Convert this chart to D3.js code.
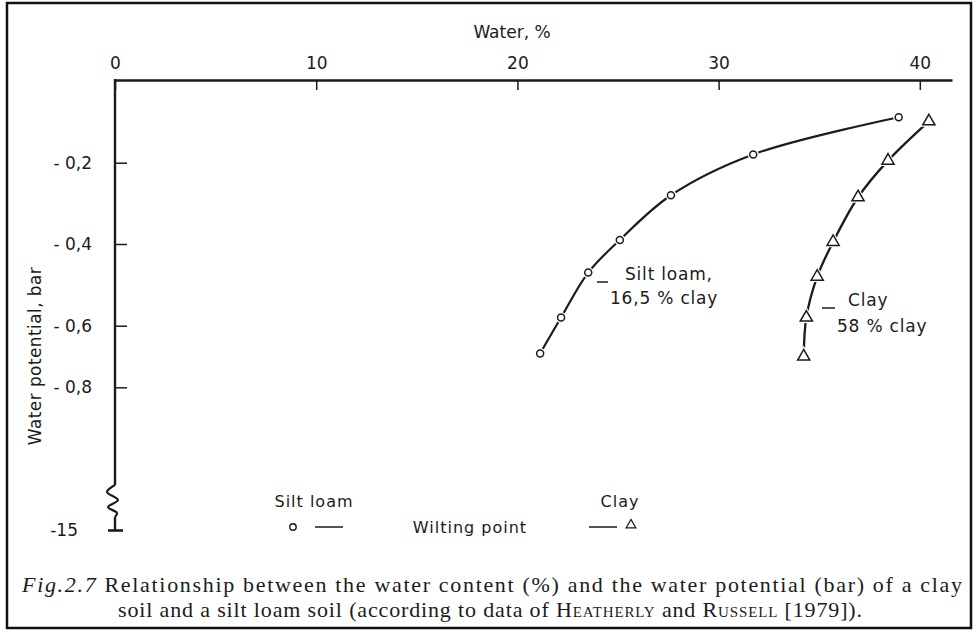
<!DOCTYPE html>
<html>
<head>
<meta charset="utf-8">
<script src="https://cdn.jsdelivr.net/npm/d3@7"></script>
<style>
  body { margin: 0; background: #fff; }
  svg { display: block; }
  .sans { font-family: "DejaVu Sans", "Noto Sans", sans-serif; fill: #1b1b1b; }
  .serif { font-family: "Liberation Serif", "DejaVu Serif", serif; fill: #1b1b1b; }
</style>
</head>
<body>
<div id="chart"></div>
<script>
// --- data ---
const waterTicks = [0, 10, 20, 30, 40];
const potentialTicks = [-0.2, -0.4, -0.6, -0.8, -15];
const potentialLabels = ["- 0,2", "- 0,4", "- 0,6", "- 0,8", "-15"];

const siltLoamWater = [38.95, 31.72, 27.63, 25.09, 23.52, 22.17, 21.13];
const siltLoamPotential = [-0.09, -0.18, -0.28, -0.39, -0.47, -0.58, -0.69];
const clayWater = [40.45, 38.42, 36.93, 35.69, 34.90, 34.36, 34.23];
const clayPotential = [-0.10, -0.195, -0.285, -0.395, -0.48, -0.58, -0.70];

const width = 977;
const height = 635;

const svg = d3.select("#chart").append("svg")
    .attr("width", width)
    .attr("height", height);

// frame
svg.append("rect")
    .attr("x", 7).attr("y", 3)
    .attr("width", 964).attr("height", 625)
    .attr("fill", "none")
    .attr("stroke", "#111")
    .attr("stroke-width", 2.5);

// scales (broken potential axis -> piecewise linear)
const x = d3.scaleLinear().domain([0, 41.6]).range([115, 952]);
const y = d3.scaleLinear()
    .domain([0, -0.2, -0.4, -0.6, -0.8, -15])
    .range([80, 162.7, 244, 325.7, 387.3, 530]);

// top axis
const xAxis = d3.axisTop(x)
    .tickValues(waterTicks)
    .tickSize(-10)
    .tickSizeOuter(0)
    .tickPadding(11)
    .tickFormat(d3.format("d"));

const gx = svg.append("g")
    .attr("transform", `translate(0,${y(0)})`)
    .call(xAxis);
gx.select(".domain").attr("stroke", "#1b1b1b").attr("stroke-width", 2.6);
gx.selectAll(".tick line").attr("stroke", "#1b1b1b").attr("stroke-width", 1.5);
gx.selectAll(".tick text")
    .attr("class", "sans")
    .attr("font-size", 17);

svg.append("text")
    .attr("class", "sans")
    .attr("x", 512).attr("y", 38)
    .attr("text-anchor", "middle")
    .attr("font-size", 17)
    .text("Water, %");

// left axis (no domain, drawn by hand for the break)
const yAxis = d3.axisLeft(y)
    .tickValues(potentialTicks)
    .tickSize(-12)
    .tickPadding(23)
    .tickFormat((d, i) => potentialLabels[i]);

const gy = svg.append("g")
    .attr("transform", `translate(${x(0)},0)`)
    .call(yAxis);
gy.select(".domain").remove();
gy.selectAll(".tick line").attr("stroke", "#1b1b1b").attr("stroke-width", 1.5);
gy.selectAll(".tick text")
    .attr("class", "sans")
    .attr("font-size", 17);

// -15 : T bar and label further left
const last = gy.selectAll(".tick").filter(d => d === -15);
last.select("line").attr("x1", -7).attr("x2", 8).attr("stroke-width", 2.6);
last.select("text").attr("x", -37);

const axisX = x(0);
const breakTop = 485;
const breakBottom = 517;
svg.append("line")
    .attr("x1", axisX).attr("x2", axisX)
    .attr("y1", y(0) - 1).attr("y2", breakTop)
    .attr("stroke", "#1b1b1b").attr("stroke-width", 2.4);
const squiggle = [[0, 0], [-8, 7], [3, 15], [-7, 22], [2, 28], [0, 32]];
svg.append("path")
    .attr("d", d3.line().curve(d3.curveCatmullRom)(squiggle.map(p => [axisX + p[0], breakTop + p[1]])))
    .attr("fill", "none").attr("stroke", "#1b1b1b").attr("stroke-width", 2.2);
svg.append("line")
    .attr("x1", axisX).attr("x2", axisX)
    .attr("y1", breakBottom).attr("y2", y(-15))
    .attr("stroke", "#1b1b1b").attr("stroke-width", 2.4);

svg.append("text")
    .attr("class", "sans")
    .attr("transform", `translate(41,356) rotate(-90)`)
    .attr("text-anchor", "middle")
    .attr("font-size", 17)
    .attr("letter-spacing", 0.4)
    .text("Water potential, bar");

// curves
const siltLoam = siltLoamWater.map((w, i) => ({ w, p: siltLoamPotential[i] }));
const clay = clayWater.map((w, i) => ({ w, p: clayPotential[i] }));

const line = d3.line()
    .x(d => x(d.w))
    .y(d => y(d.p))
    .curve(d3.curveCatmullRom.alpha(0.5));

svg.append("path").datum(siltLoam)
    .attr("d", line)
    .attr("fill", "none").attr("stroke", "#1b1b1b").attr("stroke-width", 2.2);
svg.append("path").datum(clay)
    .attr("d", line)
    .attr("fill", "none").attr("stroke", "#1b1b1b").attr("stroke-width", 2.3);

// markers with a white halo so the line breaks around them
const tri = d3.symbol(d3.symbolTriangle, 64);
const triHalo = d3.symbol(d3.symbolTriangle, 150);

svg.append("g").selectAll("circle.halo")
    .data(siltLoam).join("circle")
    .attr("cx", d => x(d.w)).attr("cy", d => y(d.p))
    .attr("r", 5.5).attr("fill", "#fff");
svg.append("g").selectAll("circle")
    .data(siltLoam).join("circle")
    .attr("cx", d => x(d.w)).attr("cy", d => y(d.p))
    .attr("r", 3.5)
    .attr("fill", "#fff").attr("stroke", "#1b1b1b").attr("stroke-width", 1.5);

svg.append("g").selectAll("path")
    .data(clay).join("path")
    .attr("transform", d => `translate(${x(d.w)},${y(d.p)})`)
    .attr("d", triHalo).attr("fill", "#fff");
svg.append("g").selectAll("path")
    .data(clay).join("path")
    .attr("transform", d => `translate(${x(d.w)},${y(d.p)})`)
    .attr("d", tri)
    .attr("fill", "#fff").attr("stroke", "#1b1b1b").attr("stroke-width", 1.5)
    .attr("stroke-linejoin", "miter");

// curve labels
const labels = svg.append("g").attr("class", "sans").attr("font-size", 17).attr("letter-spacing", 0.8);
labels.append("text").attr("x", 625).attr("y", 280).text("Silt loam,");
labels.append("text").attr("x", 610).attr("y", 304).text("16,5 % clay");
labels.append("text").attr("x", 848).attr("y", 306).text("Clay");
labels.append("text").attr("x", 837).attr("y", 332).text("58 % clay");
svg.append("line").attr("x1", 597).attr("x2", 608).attr("y1", 282).attr("y2", 282)
    .attr("stroke", "#1b1b1b").attr("stroke-width", 1.5);
svg.append("line").attr("x1", 822).attr("x2", 835).attr("y1", 308).attr("y2", 308)
    .attr("stroke", "#1b1b1b").attr("stroke-width", 1.5);

// legend
const legend = svg.append("g").attr("class", "sans").attr("font-size", 16).attr("letter-spacing", 1);
legend.append("text").attr("x", 314).attr("y", 507).attr("text-anchor", "middle").text("Silt loam");
legend.append("text").attr("x", 620).attr("y", 507).attr("text-anchor", "middle").text("Clay");
legend.append("text").attr("x", 470).attr("y", 533).attr("text-anchor", "middle").text("Wilting point");
svg.append("circle").attr("cx", 293).attr("cy", 527).attr("r", 3.2)
    .attr("fill", "#fff").attr("stroke", "#1b1b1b").attr("stroke-width", 1.4);
svg.append("line").attr("x1", 315).attr("x2", 343).attr("y1", 527).attr("y2", 527)
    .attr("stroke", "#1b1b1b").attr("stroke-width", 1.5);
svg.append("line").attr("x1", 589).attr("x2", 617).attr("y1", 527).attr("y2", 527)
    .attr("stroke", "#1b1b1b").attr("stroke-width", 1.5);
svg.append("path").attr("transform", "translate(631,525)")
    .attr("d", d3.symbol(d3.symbolTriangle, 40))
    .attr("fill", "none").attr("stroke", "#1b1b1b").attr("stroke-width", 1.3);

// caption
const cap1 = svg.append("text").attr("class", "serif")
    .attr("x", 22).attr("y", 592).attr("font-size", 22)
    .attr("textLength", 940).attr("lengthAdjust", "spacing");
cap1.append("tspan").attr("font-style", "italic").text("Fig.2.7");
cap1.append("tspan").text(" Relationship between the water content (%) and the water potential (bar) of a clay");

const cap2 = svg.append("text").attr("class", "serif")
    .attr("x", 118).attr("y", 617).attr("font-size", 22)
    .attr("textLength", 744).attr("lengthAdjust", "spacing");
cap2.append("tspan").text("soil and a silt loam soil (according to data of ");
cap2.append("tspan").attr("font-variant", "small-caps").text("Heatherly");
cap2.append("tspan").text(" and ");
cap2.append("tspan").attr("font-variant", "small-caps").text("Russell");
cap2.append("tspan").text(" [1979]).");
</script>
</body>
</html>
